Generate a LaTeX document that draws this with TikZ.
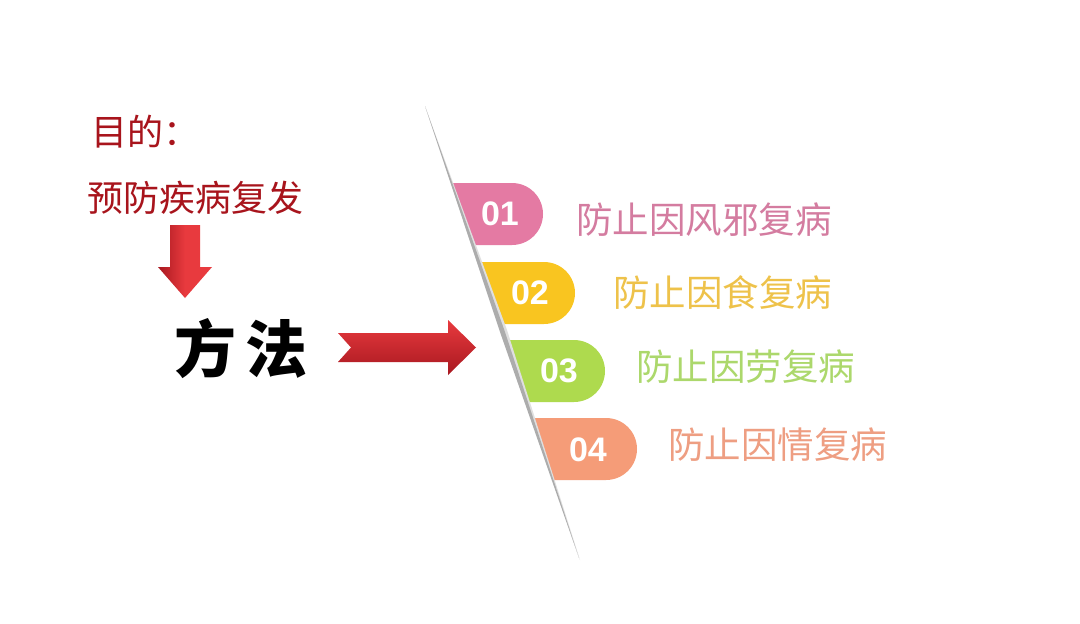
\documentclass[tikz,border=0pt]{standalone}
\usepackage{fontspec}
\setmainfont{Liberation Sans}
\newfontfamily\cjk{Noto Sans CJK SC}
\newfontfamily\numfont{Liberation Sans}
\definecolor{darkred}{HTML}{A8141C}
\definecolor{pinkc}{HTML}{E47AA3}
\definecolor{goldc}{HTML}{F9C520}
\definecolor{greenc}{HTML}{AEDA4E}
\definecolor{salmonc}{HTML}{F59C78}
\definecolor{pinkt}{HTML}{D47CA0}
\definecolor{goldt}{HTML}{EEC24A}
\definecolor{greent}{HTML}{ACD86C}
\definecolor{salmont}{HTML}{EE9E82}
\definecolor{arrowred}{HTML}{E83A3E}
\definecolor{arrowdark}{HTML}{A81820}
\tikzset{
  lefttext/.style={inner sep=0pt, anchor=base west, text=darkred, font=\cjk\fontsize{36}{36}\selectfont},
  numtext/.style={inner sep=0pt, anchor=center, text=white, font=\numfont\bfseries\fontsize{34}{34}\selectfont},
  itemtext/.style={inner sep=0pt, anchor=base west, font=\cjk\fontsize{36.5}{36.5}\selectfont},
}
\begin{document}
\begin{tikzpicture}[x=1pt,y=-1pt]
\useasboundingbox (0,0) rectangle (1080,624);
\fill[white] (0,0) rectangle (1080,624);

% left texts
\node[lefttext] (goal) at (91,145) {目的：};
\node[lefttext] (prevent) at (87,211) {预防疾病复发};

% down arrow
\shade[left color=arrowdark, right color=arrowred, middle color=arrowred]
  (170,225) -- (200,225) -- (200,267) -- (212,267) -- (185,298) -- (158,267) -- (170,267) -- cycle;

\node[inner sep=0pt, anchor=center, text=black, font=\cjk\bfseries\fontsize{62}{62}\selectfont] (method) at (241,349) {方\hspace{10pt}法};

% right arrow
\shade[top color=arrowred, bottom color=arrowdark]
  (338,333) -- (448,333) -- (448,320) -- (476,347.5) -- (448,375) -- (448,362) -- (338,362) -- (351,347.5) -- cycle;

% pills clipped to the right of the line
\begin{scope}
\clip (390.5,0) -- (1080,0) -- (1080,624) -- (602.5,624) -- cycle;
\fill[pinkc]   (400,183) -- (512,183) arc[start angle=-90, end angle=90, radius=31] -- (400,245) -- cycle;
\fill[goldc]   (400,262) -- (544,262) arc[start angle=-90, end angle=90, radius=31] -- (400,324) -- cycle;
\fill[greenc]  (400,340) -- (574,340) arc[start angle=-90, end angle=90, radius=31] -- (400,402) -- cycle;
\fill[salmonc] (400,418) -- (606,418) arc[start angle=-90, end angle=90, radius=31] -- (400,480) -- cycle;
\end{scope}

% divider line with shadow
\fill[gray!25] (425,106) -- (507,330) -- (580,560) -- (500,330) -- cycle;
\fill[gray!65] (425,106) -- (505,332) -- (579,558) -- (500,332) -- cycle;

\node[numtext] (n1) at (500,214) {01};
\node[numtext] (n2) at (530,293) {02};
\node[numtext] (n3) at (559,371) {03};
\node[numtext] (n4) at (588,450) {04};

\node[itemtext, text=pinkt]   (t1) at (576,233) {防止因风邪复病};
\node[itemtext, text=goldt]   (t2) at (613,306) {防止因食复病};
\node[itemtext, text=greent]  (t3) at (636,380) {防止因劳复病};
\node[itemtext, text=salmont] (t4) at (668,458) {防止因情复病};
\end{tikzpicture}
\end{document}
